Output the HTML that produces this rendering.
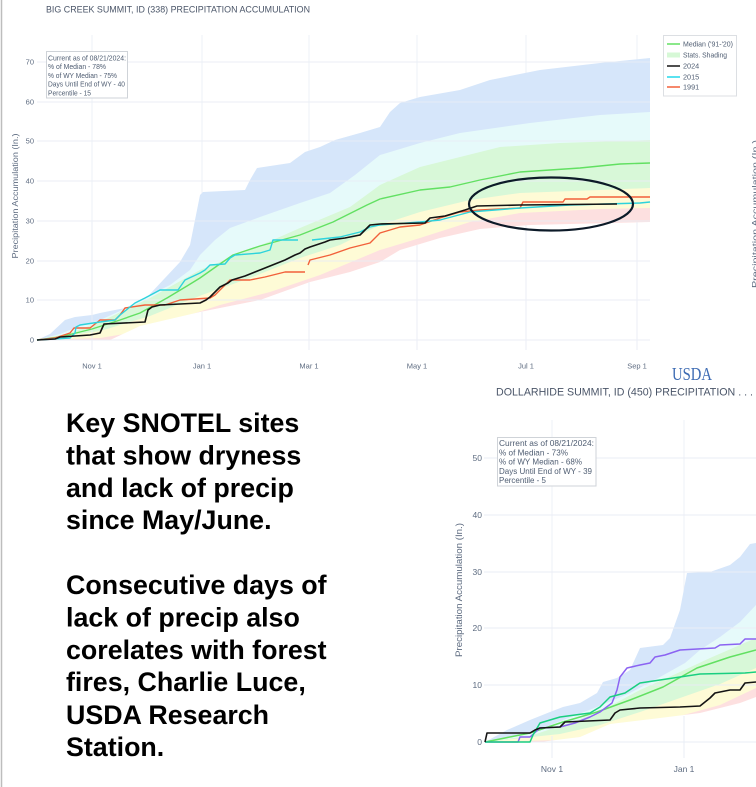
<!DOCTYPE html>
<html><head><meta charset="utf-8"><style>
html,body{margin:0;padding:0;background:#fff;}
svg{display:block;}
.t{font-family:"Liberation Sans",Arial,sans-serif;}
</style></head><body>
<svg width="756" height="787" viewBox="0 0 756 787" xmlns="http://www.w3.org/2000/svg">
<rect width="756" height="787" fill="#fff"/>
<line x1="1.5" y1="0" x2="1.5" y2="787" stroke="#bdbdbd" stroke-width="1.5"/>

<!-- ===== TOP CHART ===== -->
<g fill="none" stroke="#eef1f7" stroke-width="1">
<line x1="92" y1="35" x2="92" y2="350"/><line x1="202" y1="35" x2="202" y2="350"/><line x1="309" y1="35" x2="309" y2="350"/><line x1="417" y1="35" x2="417" y2="350"/><line x1="526" y1="35" x2="526" y2="350"/><line x1="637" y1="35" x2="637" y2="350"/>
</g>
<!-- bands -->
<polygon fill="#d6e6fa" points="37,340 50,334 65,320 75,317 92,315 100,313 120,309 140,306 150,294 165,278 180,262 190,245 196,215 200,195 203,192 245,190 250,180 257,168 290,163 305,152 320,147 335,140 360,133 380,127 390,112 400,103 420,97 460,90 490,80 540,70 600,63 650,58 650,340"/>
<polygon fill="#e6fafa" points="37,340 60,334 80,326 100,320 120,311 140,300 170,285 190,270 200,255 215,240 230,228 260,217 300,203 330,193 355,175 380,155 420,143 460,133 530,123 600,115 650,112 650,340"/>
<polygon fill="#d8f8d8" points="37,340 70,333 100,322 150,298 200,270 250,250 300,228 350,207 380,185 420,167 460,157 500,147 560,143 650,140 650,340"/>
<polygon fill="#fefbd6" points="37,340 100,331 150,316 202,295 250,278 300,258 340,245 380,225 420,212 470,200 520,193 600,190 650,188 650,340"/>
<polygon fill="#fde0e0" points="37,340 100,338 130,333 180,318 220,305 270,292 320,275 380,250 420,238 470,222 520,213 600,209 650,208 650,340"/>
<polygon fill="#ffffff" points="37,340 110,340 140,326 200,312 260,300 310,282 350,272 380,262 400,250 440,238 480,229 530,225 650,222 650,352 37,352"/>
<g fill="none" stroke="#e9edf5" stroke-width="1" opacity="0.9">
<line x1="37" y1="62" x2="650" y2="62"/><line x1="37" y1="102" x2="650" y2="102"/><line x1="37" y1="141" x2="650" y2="141"/><line x1="37" y1="181" x2="650" y2="181"/><line x1="37" y1="221" x2="650" y2="221"/><line x1="37" y1="261" x2="650" y2="261"/><line x1="37" y1="300" x2="650" y2="300"/><line x1="37" y1="340" x2="650" y2="340"/>
<line x1="92" y1="222" x2="92" y2="350"/><line x1="202" y1="312" x2="202" y2="350"/><line x1="309" y1="282" x2="309" y2="350"/><line x1="417" y1="245" x2="417" y2="350"/><line x1="526" y1="225" x2="526" y2="350"/><line x1="637" y1="222" x2="637" y2="350"/>
</g>
<!-- lines -->
<g fill="none" stroke-width="1.4" stroke-linejoin="round">
<polyline stroke="#62e062" points="37,340 60,337 92,329 120,320 140,313 167,298 187,286 200,278 217,266 233,255 260,246 300,235 333,222 367,205 380,199 420,190 450,187 480,180 520,172 580,168 620,164 650,163"/>
<polyline stroke="#f2603a" points="37,340 55,338 70,333 74,328 90,328 95,324 100,320 115,320 120,315 125,308 145,305 165,305 180,300 210,298 215,295 220,290 225,285 230,280 250,280 265,277 285,272 305,272"/>
<polyline stroke="#f2603a" points="308,265 310,260 330,255 350,248 370,243 375,238 380,233 400,227 420,225 440,218 460,212 480,210 520,208 523,202 563,202 565,199 587,199 590,197 650,197"/>
<polyline stroke="#2dd3dc" points="37,340 70,338 75,333 76,327 80,325 100,322 115,320 120,315 135,303 145,298 160,290 178,290 185,280 200,273 205,270 210,265 225,264 230,258 235,255 260,253 270,250 273,240 298,240"/>
<polyline stroke="#2dd3dc" points="312,240 340,237 360,232 370,227 380,225 420,222 440,220 470,212 520,208 570,205 640,203 650,202"/>
<polyline stroke="#141414" stroke-width="1.6" points="37,340 55,339 60,337 90,335 100,333 104,324 145,322 148,310 152,307 160,305 200,303 206,300 210,297 215,292 220,287 228,283 232,280 245,276 260,270 270,266 285,260 295,255 300,253 305,249 310,247 325,242 330,240 345,238 360,235 365,230 370,225 380,224 425,223 430,218 445,216 465,210 477,206 520,205 617,204"/>
</g>
<ellipse cx="551" cy="204" rx="82" ry="26.5" fill="none" stroke="#0c1a28" stroke-width="2.2"/>
<!-- axis text -->
<g class="t" font-size="7.5" fill="#5d6b80" text-anchor="end">
<text x="34" y="64.5">70</text><text x="34" y="104.5">60</text><text x="34" y="143.5">50</text><text x="34" y="183.5">40</text><text x="34" y="223.5">30</text><text x="34" y="263.5">20</text><text x="34" y="302.5">10</text><text x="34" y="342.5">0</text>
</g>
<g class="t" font-size="7.5" fill="#5d6b80" text-anchor="middle">
<text x="92" y="368.5">Nov 1</text><text x="202" y="368.5">Jan 1</text><text x="309" y="368.5">Mar 1</text><text x="417" y="368.5">May 1</text><text x="526" y="368.5">Jul 1</text><text x="637" y="368.5">Sep 1</text>
</g>
<text class="t" x="46" y="12.3" font-size="9.3" fill="#4a5568" textLength="264" lengthAdjust="spacingAndGlyphs">BIG CREEK SUMMIT, ID (338) PRECIPITATION ACCUMULATION</text>
<text class="t" transform="translate(18,196) rotate(-90)" font-size="8" fill="#5d6b80" text-anchor="middle" textLength="125" lengthAdjust="spacingAndGlyphs">Precipitation Accumulation (In.)</text>
<text class="t" transform="translate(758,214) rotate(-90)" font-size="8.5" fill="#5d6b80" text-anchor="middle" textLength="148" lengthAdjust="spacingAndGlyphs">Precipitation Accumulation (In.)</text>
<!-- info box -->
<rect x="46.5" y="51.5" width="81" height="46.5" fill="#fff" stroke="#cfd3d8" stroke-width="1"/>
<g class="t" font-size="7.3" fill="#4f5d72">
<text x="48" y="60.5" textLength="78" lengthAdjust="spacingAndGlyphs">Current as of 08/21/2024:</text>
<text x="48" y="69" textLength="58" lengthAdjust="spacingAndGlyphs">% of Median - 78%</text>
<text x="48" y="77.8" textLength="69" lengthAdjust="spacingAndGlyphs">% of WY Median - 75%</text>
<text x="48" y="86.6" textLength="77" lengthAdjust="spacingAndGlyphs">Days Until End of WY - 40</text>
<text x="48" y="95.4" textLength="43" lengthAdjust="spacingAndGlyphs">Percentile - 15</text>
</g>
<!-- legend -->
<rect x="663.5" y="35.5" width="73" height="60.5" fill="#fff" stroke="#dcdfe3" stroke-width="1"/>
<g stroke-width="1.5">
<line x1="667" y1="44" x2="680" y2="44" stroke="#62e062"/>
<line x1="667" y1="55" x2="680" y2="55" stroke="#d6f8d6" stroke-width="5"/>
<line x1="667" y1="66" x2="680" y2="66" stroke="#141414"/>
<line x1="667" y1="77" x2="680" y2="77" stroke="#22d8ea"/>
<line x1="667" y1="87" x2="680" y2="87" stroke="#f2603a"/>
</g>
<g class="t" font-size="7.3" fill="#4f5d72">
<text x="683" y="46.5" textLength="50" lengthAdjust="spacingAndGlyphs">Median ('91-'20)</text>
<text x="683" y="57.5" textLength="44" lengthAdjust="spacingAndGlyphs">Stats. Shading</text>
<text x="683" y="68.5">2024</text>
<text x="683" y="79.5">2015</text>
<text x="683" y="89.5">1991</text>
</g>

<!-- USDA -->
<text x="672" y="380" font-family="'Liberation Serif',serif" font-size="18" fill="#3d6bb3" textLength="40" lengthAdjust="spacingAndGlyphs">USDA</text>

<!-- ===== BOTTOM CHART ===== -->
<g fill="none" stroke="#eef1f7" stroke-width="1">
<line x1="552" y1="420" x2="552" y2="758"/><line x1="684" y1="420" x2="684" y2="758"/>
</g>
<polygon fill="#d6e6fa" points="485,742 507,730 530,720 550,712 563,707 580,703 597,693 603,682 617,678 630,670 640,648 663,645 670,638 680,610 687,573 710,572 730,565 740,557 750,544 756,543 756,742"/>
<polygon fill="#e6fafa" points="485,742 530,733 563,720 597,707 630,693 660,677 685,663 700,650 720,637 740,622 756,605 756,742"/>
<polygon fill="#d8f8d8" points="485,742 530,736 563,725 597,713 640,690 680,672 710,658 740,645 756,638 756,742"/>
<polygon fill="#fefbd6" points="485,742 560,734 600,725 640,712 680,698 720,684 756,668 756,742"/>
<polygon fill="#fde0e0" points="485,742 560,740 600,734 640,725 680,716 720,705 756,688 756,742"/>
<polygon fill="#ffffff" points="485,742 540,742 580,737 610,724 660,718 700,713 740,703 756,697 756,744 485,744"/>
<g fill="none" stroke="#e9edf5" stroke-width="1">
<line x1="484" y1="458" x2="756" y2="458"/><line x1="484" y1="515" x2="756" y2="515"/><line x1="484" y1="572" x2="756" y2="572"/><line x1="484" y1="628" x2="756" y2="628"/><line x1="484" y1="685" x2="756" y2="685"/><line x1="484" y1="742" x2="756" y2="742"/>
<line x1="552" y1="736" x2="552" y2="758"/><line x1="684" y1="716" x2="684" y2="758"/>
</g>
<g fill="none" stroke-width="1.5" stroke-linejoin="round">
<polyline stroke="#62e062" points="485,742 530,733 563,722 597,712 630,700 663,687 697,668 730,657 756,650"/>
<polyline stroke="#8b63f2" points="485,742 518,742 520,737 530,737 540,728 560,727 575,723 590,717 600,712 612,703 617,690 620,677 627,668 640,665 650,663 655,657 665,655 680,650 715,648 720,645 740,644 745,639 756,639"/>
<polyline stroke="#19cf80" points="485,742 530,742 533,735 540,723 560,717 590,713 600,707 610,697 625,693 640,683 660,680 680,677 700,674 745,673 756,672"/>
<polyline stroke="#141414" stroke-width="1.6" points="485,742 487,733 530,733 535,730 540,728 560,727 565,722 610,720 615,713 620,710 640,708 680,707 700,706 705,702 710,698 715,693 730,690 740,690 745,683 756,682"/>
</g>
<g class="t" font-size="8.5" fill="#5d6b80" text-anchor="end">
<text x="482" y="461">50</text><text x="482" y="518">40</text><text x="482" y="575">30</text><text x="482" y="631">20</text><text x="482" y="688">10</text><text x="482" y="745">0</text>
</g>
<g class="t" font-size="8.5" fill="#5d6b80" text-anchor="middle">
<text x="552" y="772">Nov 1</text><text x="684" y="772">Jan 1</text>
</g>
<text class="t" x="496" y="395.5" font-size="11" fill="#4a5568" textLength="257" lengthAdjust="spacingAndGlyphs">DOLLARHIDE SUMMIT, ID (450) PRECIPITATION . . .</text>
<text class="t" transform="translate(462,590) rotate(-90)" font-size="9" fill="#5d6b80" text-anchor="middle" textLength="134" lengthAdjust="spacingAndGlyphs">Precipitation Accumulation (In.)</text>
<rect x="497.5" y="437.5" width="98.5" height="48.5" fill="#fff" stroke="#cfd3d8" stroke-width="1"/>
<g class="t" font-size="8.6" fill="#4f5d72">
<text x="499" y="446" textLength="95" lengthAdjust="spacingAndGlyphs">Current as of 08/21/2024:</text>
<text x="499" y="455.3" textLength="69" lengthAdjust="spacingAndGlyphs">% of Median - 73%</text>
<text x="499" y="464.6" textLength="83" lengthAdjust="spacingAndGlyphs">% of WY Median - 68%</text>
<text x="499" y="473.9" textLength="93" lengthAdjust="spacingAndGlyphs">Days Until End of WY - 39</text>
<text x="499" y="483.2" textLength="47" lengthAdjust="spacingAndGlyphs">Percentile - 5</text>
</g>

<!-- ===== TEXT BLOCK ===== -->
<g class="t" font-size="26.8" font-weight="bold" fill="#000">
<text x="66" y="432">Key SNOTEL sites</text>
<text x="66" y="464.5">that show dryness</text>
<text x="66" y="497">and lack of precip</text>
<text x="66" y="529">since May/June.</text>
<text x="66" y="594">Consecutive days of</text>
<text x="66" y="626.5">lack of precip also</text>
<text x="66" y="659">corelates with forest</text>
<text x="66" y="691">fires, Charlie Luce,</text>
<text x="66" y="724">USDA Research</text>
<text x="66" y="756">Station.</text>
</g>
</svg>
</body></html>
